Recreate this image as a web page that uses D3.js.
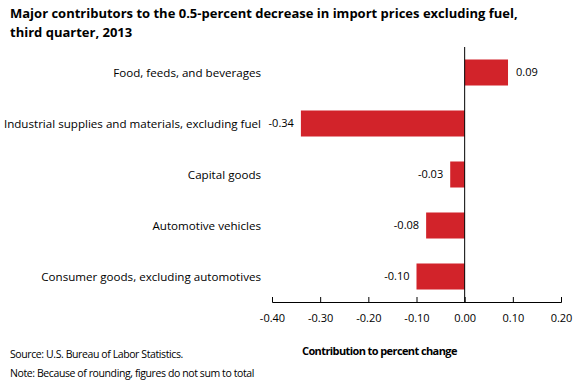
<!DOCTYPE html>
<html>
<head>
<meta charset="utf-8">
<script src="https://cdn.jsdelivr.net/npm/d3@7"></script>
<style>
  body { margin: 0; background: #fff; }
  svg { display: block; }
  text { font-family: "Open Sans", "Noto Sans", sans-serif; fill: #000; }
</style>
</head>
<body>
<div id="container"></div>
<script>
// ==============
//	DATA
// ==============

var categories = [
	"Food, feeds, and beverages",
	"Industrial supplies and materials, excluding fuel",
	"Capital goods",
	"Automotive vehicles",
	"Consumer goods, excluding automotives"
];
var values = [0.09, -0.34, -0.03, -0.08, -0.10];
var tickValues = [-0.40, -0.30, -0.20, -0.10, 0.00, 0.10, 0.20];

var titleLines = [
	"Major contributors to the 0.5-percent decrease in import prices excluding fuel,",
	"third quarter, 2013"
];
var axisTitle = "Contribution to percent change";
var notes = [
	"Source: U.S. Bureau of Labor Statistics.",
	"Note: Because of rounding, figures do not sum to total"
];

// ==============
//	OPTIONS
// ==============

var width = 580, height = 380,
	plot = {left: 272, right: 561, top: 47, bottom: 302},
	colBar = "#d2232a";

// plain hyphen for negatives, like the original
var fmt = d => d3.format(".2f")(d).replace("\u2212", "-");

var svg = d3.select("#container").append("svg")
	.attr("width", width)
	.attr("height", height);

var x = d3.scaleLinear()
	.domain([-0.40, 0.20])
	.range([plot.left, plot.right]);

var y = d3.scaleBand()
	.domain(categories)
	.range([plot.top, plot.bottom])
	.paddingInner(0.49)
	.paddingOuter(0.245);

// === title
svg.append("g")
	.selectAll("text")
	.data(titleLines)
	.join("text")
	.attr("x", 10)
	.attr("y", (d, i) => 18 + i * 19)
	.style("font-size", "13px")
	.style("font-weight", "bold")
	.text(d => d);

// === bars
svg.append("g")
	.selectAll("rect")
	.data(values)
	.join("rect")
	.attr("x", d => x(Math.min(0, d)))
	.attr("width", d => Math.abs(x(d) - x(0)))
	.attr("y", (d, i) => y(categories[i]))
	.attr("height", y.bandwidth())
	.attr("fill", colBar);

// === value labels
svg.append("g")
	.style("font-size", "11px")
	.selectAll("text")
	.data(values)
	.join("text")
	.attr("x", d => d < 0 ? x(d) - 7 : x(d) + 8)
	.attr("y", (d, i) => y(categories[i]) + y.bandwidth() / 2)
	.attr("dy", "0.35em")
	.attr("text-anchor", d => d < 0 ? "end" : "start")
	.text(fmt);

// === category labels
svg.append("g")
	.style("font-size", "11.6px")
	.selectAll("text")
	.data(categories)
	.join("text")
	.attr("x", 261)
	.attr("y", d => y(d) + y.bandwidth() / 2)
	.attr("dy", "0.35em")
	.attr("text-anchor", "end")
	.text(d => d);

// === zero line
svg.append("line")
	.attr("x1", x(0)).attr("x2", x(0))
	.attr("y1", plot.top).attr("y2", plot.bottom)
	.attr("stroke", "#000")
	.attr("stroke-width", 1);

// === x axis (ticks point up into the plot)
var xAxis = svg.append("g")
	.attr("transform", "translate(0," + plot.bottom + ")")
	.call(d3.axisTop(x)
		.tickValues(tickValues)
		.tickSize(5)
		.tickSizeOuter(5)
		.tickFormat(fmt));

xAxis.select(".domain").attr("stroke", "#000");
xAxis.selectAll(".tick line").attr("stroke", "#000");
xAxis.selectAll(".tick text")
	.attr("y", 20)
	.attr("dy", 0)
	.style("font-size", "11px")
	.style("font-family", "'Open Sans', sans-serif")
	.attr("fill", "#000");

// === axis title
svg.append("text")
	.attr("x", 302)
	.attr("y", 355)
	.style("font-size", "11px")
	.style("letter-spacing", "-0.6px")
	.style("font-weight", "bold")
	.text(axisTitle);

// === source / note
svg.append("g")
	.style("font-size", "10.5px")
	.style("letter-spacing", "-0.4px")
	.selectAll("text")
	.data(notes)
	.join("text")
	.attr("x", 10)
	.attr("y", (d, i) => 358 + i * 19)
	.text(d => d);
</script>
</body>
</html>
